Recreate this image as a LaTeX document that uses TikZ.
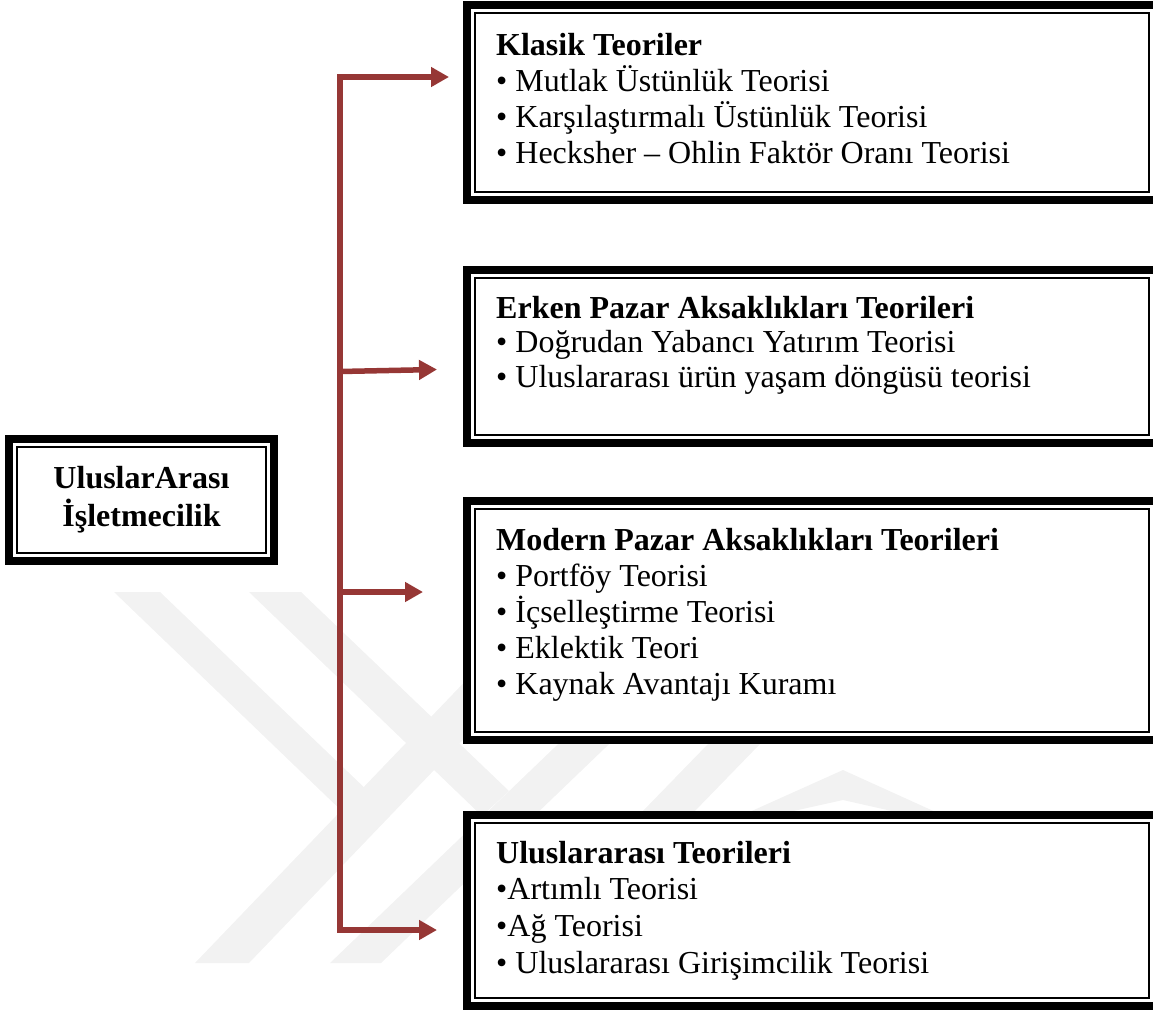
\documentclass[tikz,border=0pt]{standalone}
\usepackage{fontspec}
\setmainfont{Liberation Serif}
\usetikzlibrary{arrows.meta}
\definecolor{linkred}{RGB}{150,55,53}
\definecolor{markgrey}{RGB}{242,242,242}
\newcommand\fixedspaces{\spaceskip=8pt\relax\xspaceskip=8pt\relax}
\tikzset{
  frame/.style={draw=black, line width=8pt, fill=white, anchor=north west,
    inner sep=0pt, outer sep=0pt},
  innerline/.style={draw=black, line width=2pt},
  boxtext/.style={anchor=base west, inner sep=0pt, text width=640pt, align=left,
    font=\fontsize{32}{#1}\selectfont, execute at begin node=\fixedspaces},
  boxtext/.default=36,
  headtext/.style={anchor=base, inner sep=0pt, text width=240pt, align=center,
    font=\bfseries\fontsize{32}{38}\selectfont},
  linkline/.style={draw=linkred, line width=5.5pt, line join=miter},
  tip/.tip={Triangle[length=18pt,width=19pt]},
  stripe/.style={fill=markgrey, draw=none},
}
\begin{document}
\begin{tikzpicture}[x=1pt,y=-1pt]
\useasboundingbox (0,0) rectangle (1153,1012);

% faint background emblem (diagonal bands)
\fill[stripe] (114,592) -- (160,592) -- (371,794) -- (347,816) -- cycle;
\fill[stripe] (195,963) -- (249,963) -- (530,670) -- (476,670) -- cycle;
\fill[stripe] (249,592) -- (301,592) -- (509,791) -- (482,816) -- cycle;
\fill[stripe] (330,963) -- (381,963) -- (655,700) -- (604,700) -- cycle;
\fill[stripe] (640,814) -- (692,814) -- (760,744) -- (708,744) -- cycle;
\fill[stripe] (745,814) -- (843,770) -- (940,814) -- (905,814) -- (843,800) -- (780,814) -- cycle;

% outer frames (thick) with the thin inner rule
\node[frame, minimum width=265pt, minimum height=122pt] (lb) at (9,439) {};
\node[frame, minimum width=690pt, minimum height=195pt] (b1) at (467,5) {};
\node[frame, minimum width=690pt, minimum height=173pt] (b2) at (467,270) {};
\node[frame, minimum width=690pt, minimum height=239pt] (b3) at (467,501) {};
\node[frame, minimum width=690pt, minimum height=191pt] (b4) at (467,815) {};
\foreach \b in {lb,b1,b2,b3,b4}
  \draw[innerline] ([shift={(8pt,-8pt)}]\b.north west) rectangle ([shift={(-8pt,8pt)}]\b.south east);

% texts
\node[headtext] (lt) at (141.5,488) {UluslarArası\\İşletmecilik};
\node[boxtext=36] (t1) at (496,55) {\textbf{Klasik Teoriler}\\
  • Mutlak Üstünlük Teorisi\\
  • Karşılaştırmalı Üstünlük Teorisi\\
  • Hecksher – Ohlin Faktör Oranı Teorisi};
\node[boxtext=34.5] (t2) at (496,318) {\textbf{Erken Pazar Aksaklıkları Teorileri}\\
  • Doğrudan Yabancı Yatırım Teorisi\\
  • Uluslararası ürün yaşam döngüsü teorisi};
\node[boxtext=36.2] (t3) at (496,550) {\textbf{Modern Pazar Aksaklıkları Teorileri}\\
  • Portföy Teorisi\\
  • İçselleştirme Teorisi\\
  • Eklektik Teori\\
  • Kaynak Avantajı Kuramı};
\node[boxtext=36.7] (t4) at (496,863) {\textbf{Uluslararası Teorileri}\\
  •Artımlı Teorisi\\
  •Ağ Teorisi\\
  • Uluslararası Girişimcilik Teorisi};

% connector: spine with branches
\coordinate (sTop) at (340,77);
\coordinate (sBot) at (340,930);
\coordinate (s2) at (340,371.5);
\coordinate (s3) at (340,592);
\coordinate (a1) at (449,77);
\coordinate (a2) at (437,369.5);
\coordinate (a3) at (423,592);
\coordinate (a4) at (437,930);
\draw[linkline, tip-tip] (a1) -- (sTop) -- (sBot) -- (a4);
\draw[linkline, -tip] (s2) -- (a2);
\draw[linkline, -tip] (s3) -- (a3);
\end{tikzpicture}
\end{document}
